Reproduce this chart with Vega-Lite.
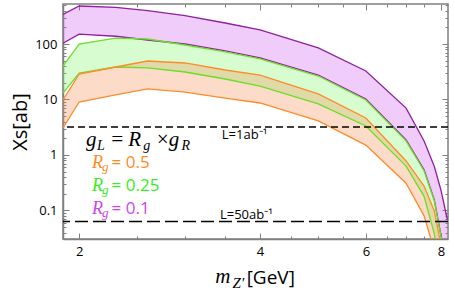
{
  "$schema": "https://vega.github.io/schema/vega-lite/v6.json",
  "width": 385,
  "height": 235,
  "autosize": {"type": "none"},
  "padding": {"left": 63, "top": 4, "right": 7, "bottom": 55},
  "config": {
    "view": {"stroke": "#808080", "strokeWidth": 1.5},
    "axis": {
      "grid": false,
      "labelFont": "Open Sans",
      "labelFontSize": 13,
      "labelColor": "black",
      "domainColor": "#808080",
      "domainWidth": 1.5,
      "tickColor": "#808080",
      "tickWidth": 1,
      "titleFont": "Open Sans",
      "titleFontWeight": "normal",
      "titleColor": "black"
    }
  },
  "datasets": {
    "bands": [
      {"m": 1.88, "series": "0.1", "hi": 340, "lo": 103},
      {"m": 2.0, "series": "0.1", "hi": 484, "lo": 151},
      {"m": 2.3, "series": "0.1", "hi": 458, "lo": 138},
      {"m": 2.6, "series": "0.1", "hi": 398, "lo": 118},
      {"m": 3.0, "series": "0.1", "hi": 324, "lo": 100},
      {"m": 3.5, "series": "0.1", "hi": 239, "lo": 75},
      {"m": 4.0, "series": "0.1", "hi": 179, "lo": 56},
      {"m": 5.0, "series": "0.1", "hi": 85, "lo": 27.6},
      {"m": 6.0, "series": "0.1", "hi": 32.6, "lo": 10.2},
      {"m": 7.0, "series": "0.1", "hi": 7.0, "lo": 1.87},
      {"m": 7.5, "series": "0.1", "hi": 1.79, "lo": 0.54},
      {"m": 7.8, "series": "0.1", "hi": 0.62, "lo": 0.155},
      {"m": 8.0, "series": "0.1", "hi": 0.234, "lo": 0.036},
      {"m": 8.2, "series": "0.1", "hi": 0.068, "lo": 0.01},
      {"m": 1.88, "series": "0.25", "hi": 40, "lo": 13.1},
      {"m": 2.0, "series": "0.25", "hi": 100, "lo": 30},
      {"m": 2.3, "series": "0.25", "hi": 128, "lo": 38.5},
      {"m": 2.6, "series": "0.25", "hi": 123, "lo": 37.2},
      {"m": 3.0, "series": "0.25", "hi": 96, "lo": 31.3},
      {"m": 3.5, "series": "0.25", "hi": 72, "lo": 23.4},
      {"m": 4.0, "series": "0.25", "hi": 54, "lo": 17.5},
      {"m": 5.0, "series": "0.25", "hi": 26.5, "lo": 8.3},
      {"m": 6.0, "series": "0.25", "hi": 9.8, "lo": 3.34},
      {"m": 7.0, "series": "0.25", "hi": 1.8, "lo": 0.63},
      {"m": 7.5, "series": "0.25", "hi": 0.52, "lo": 0.18},
      {"m": 7.8, "series": "0.25", "hi": 0.15, "lo": 0.038},
      {"m": 8.0, "series": "0.25", "hi": 0.035, "lo": 0.005},
      {"m": 8.2, "series": "0.25", "hi": 0.01, "lo": 0.002},
      {"m": 1.88, "series": "0.5", "hi": 9.8, "lo": 3.06},
      {"m": 2.0, "series": "0.5", "hi": 28.8, "lo": 9.0},
      {"m": 2.3, "series": "0.5", "hi": 38.5, "lo": 12.1},
      {"m": 2.6, "series": "0.5", "hi": 49.4, "lo": 15.5},
      {"m": 3.0, "series": "0.5", "hi": 45.5, "lo": 13.6},
      {"m": 3.5, "series": "0.5", "hi": 34, "lo": 10.6},
      {"m": 4.0, "series": "0.5", "hi": 27.6, "lo": 8.65},
      {"m": 5.0, "series": "0.5", "hi": 12.6, "lo": 4.1},
      {"m": 6.0, "series": "0.5", "hi": 4.65, "lo": 1.51},
      {"m": 7.0, "series": "0.5", "hi": 0.78, "lo": 0.31},
      {"m": 7.5, "series": "0.5", "hi": 0.276, "lo": 0.08},
      {"m": 7.8, "series": "0.5", "hi": 0.098, "lo": 0.019},
      {"m": 8.0, "series": "0.5", "hi": 0.024, "lo": 0.004},
      {"m": 8.2, "series": "0.5", "hi": 0.005, "lo": 0.001}
    ],
    "lumi": [
      {"L": "1", "xs": 3.2},
      {"L": "50", "xs": 0.0634}
    ],
    "notes": [
      {"t": "g", "m": 2.054, "ys": 1.45, "kind": "math", "tone": "k"},
      {"t": "L", "m": 2.141, "ys": 1.23, "kind": "sub", "tone": "k"},
      {"t": "=", "m": 2.251, "ys": 1.45, "kind": "math", "tone": "k"},
      {"t": "R", "m": 2.413, "ys": 1.45, "kind": "math", "tone": "k"},
      {"t": "g", "m": 2.556, "ys": 1.23, "kind": "sub", "tone": "k"},
      {"t": "×", "m": 2.68, "ys": 1.45, "kind": "math", "tone": "k"},
      {"t": "g", "m": 2.82, "ys": 1.45, "kind": "math", "tone": "k"},
      {"t": "R", "m": 2.96, "ys": 1.23, "kind": "sub", "tone": "k"},
      {"t": "R", "m": 2.101, "ys": 0.583, "kind": "lmath", "tone": "0.5"},
      {"t": "g", "m": 2.184, "ys": 0.515, "kind": "lsub", "tone": "0.5"},
      {"t": "= 0.5", "m": 2.265, "ys": 0.583, "kind": "num", "tone": "0.5"},
      {"t": "R", "m": 2.101, "ys": 0.2245, "kind": "lmath", "tone": "0.25"},
      {"t": "g", "m": 2.184, "ys": 0.198, "kind": "lsub", "tone": "0.25"},
      {"t": "= 0.25", "m": 2.265, "ys": 0.2245, "kind": "num", "tone": "0.25"},
      {"t": "R", "m": 2.101, "ys": 0.0865, "kind": "lmath", "tone": "0.1"},
      {"t": "g", "m": 2.184, "ys": 0.0764, "kind": "lsub", "tone": "0.1"},
      {"t": "= 0.1", "m": 2.265, "ys": 0.0865, "kind": "num", "tone": "0.1"},
      {"t": "L=1ab⁻¹", "m": 3.455, "ys": 1.94, "kind": "lab", "tone": "k"},
      {"t": "L=50ab⁻¹", "m": 3.43, "ys": 0.069, "kind": "lab", "tone": "k"},
      {"t": "m", "m": 3.37, "ys": 0.00494, "kind": "math", "tone": "k"},
      {"t": "Z′", "m": 3.6, "ys": 0.00402, "kind": "xsub", "tone": "k"},
      {"t": "[GeV]", "m": 3.8, "ys": 0.00474, "kind": "big", "tone": "k"}
    ]
  },
  "layer": [
    {
      "layer": [
        {
          "data": {"name": "bands"},
          "transform": [{"filter": "datum.series === '0.1'"}],
          "mark": {"type": "area", "color": "#ca55ee", "opacity": 0.3, "clip": true},
          "encoding": {
            "x": {
              "field": "m", "type": "quantitative", "title": null,
              "scale": {"type": "log", "domain": [1.88, 8.22], "nice": false},
              "axis": {
                "values": [2, 2.5, 3, 3.5, 4, 4.5, 5, 5.5, 6, 6.5, 7, 7.5, 8],
                "format": "~g",
                "labelExpr": "(datum.value == 2 || datum.value == 4 || datum.value == 6 || datum.value == 8) ? datum.label : ''",
                "tickSize": {"condition": {"test": "datum.value == 2 || datum.value == 4 || datum.value == 6 || datum.value == 8", "value": -6}, "value": -3},
                "labelPadding": 12,
                "title": null
              }
            },
            "y": {
              "field": "hi", "type": "quantitative",
              "scale": {"type": "log", "domain": [0.0306, 526], "nice": false},
              "axis": {
                "title": "Xs[ab]",
                "values": [0.04, 0.05, 0.06, 0.07, 0.08, 0.09, 0.1, 0.2, 0.3, 0.4, 0.5, 0.6, 0.7, 0.8, 0.9, 1, 2, 3, 4, 5, 6, 7, 8, 9, 10, 20, 30, 40, 50, 60, 70, 80, 90, 100, 200, 300, 400, 500],
                "format": "~g",
                "labelExpr": "(datum.value == 0.1 || datum.value == 1 || datum.value == 10 || datum.value == 100) ? datum.label : ''",
                "tickSize": {"condition": {"test": "datum.value == 0.1 || datum.value == 1 || datum.value == 10 || datum.value == 100", "value": -6}, "value": -3},
                "labelPadding": 12,
                "titleFontSize": 20,
                "titlePadding": 4
              }
            },
            "y2": {"field": "lo"}
          }
        },
        {
          "data": {"name": "bands"},
          "transform": [{"filter": "datum.series === '0.25'"}],
          "mark": {"type": "area", "color": "#76f562", "opacity": 0.3, "clip": true},
          "encoding": {
            "x": {"field": "m", "type": "quantitative", "scale": {"type": "log"}},
            "y": {"field": "hi", "type": "quantitative", "scale": {"type": "log"}},
            "y2": {"field": "lo"}
          }
        },
        {
          "data": {"name": "bands"},
          "transform": [{"filter": "datum.series === '0.5'"}],
          "mark": {"type": "area", "color": "#f58a48", "opacity": 0.3, "clip": true},
          "encoding": {
            "x": {"field": "m", "type": "quantitative", "scale": {"type": "log"}},
            "y": {"field": "hi", "type": "quantitative", "scale": {"type": "log"}},
            "y2": {"field": "lo"}
          }
        },
        {
          "data": {"name": "bands"},
          "mark": {"type": "line", "strokeWidth": 1.3, "clip": true},
          "encoding": {
            "x": {"field": "m", "type": "quantitative", "scale": {"type": "log"}},
            "y": {"field": "lo", "type": "quantitative", "scale": {"type": "log"}},
            "stroke": {"field": "series", "type": "nominal", "scale": {"domain": ["0.5", "0.25", "0.1"], "range": ["#ff8a2a", "#6edc2a", "#8e1f9f"]}, "legend": null}
          }
        },
        {
          "data": {"name": "bands"},
          "mark": {"type": "line", "strokeWidth": 1.3, "clip": true},
          "encoding": {
            "x": {"field": "m", "type": "quantitative", "scale": {"type": "log"}},
            "y": {"field": "hi", "type": "quantitative", "scale": {"type": "log"}},
            "stroke": {"field": "series", "type": "nominal", "legend": null}
          }
        },
        {
          "data": {"name": "lumi"},
          "mark": {"type": "rule", "strokeWidth": 1.5, "color": "black"},
          "encoding": {
            "y": {"field": "xs", "type": "quantitative", "scale": {"type": "log"}},
            "strokeDash": {"field": "L", "type": "nominal", "scale": {"domain": ["1", "50"], "range": [[7, 4], [13, 5]]}, "legend": null}
          }
        },
        {
          "data": {"name": "notes"},
          "transform": [{"filter": "datum.kind === 'math'"}],
          "mark": {"type": "text", "font": "Liberation Serif", "fontStyle": "italic", "fontSize": 21, "align": "left", "baseline": "alphabetic"},
          "encoding": {
            "x": {"field": "m", "type": "quantitative", "scale": {"type": "log"}},
            "y": {"field": "ys", "type": "quantitative", "scale": {"type": "log"}},
            "text": {"field": "t"},
            "fill": {"field": "tone", "type": "nominal", "scale": {"domain": ["k", "0.5", "0.25", "0.1"], "range": ["#000000", "#ff8a1e", "#33ee22", "#cc44ee"]}, "legend": null}
          }
        },
        {
          "data": {"name": "notes"},
          "transform": [{"filter": "datum.kind === 'sub'"}],
          "mark": {"type": "text", "font": "Liberation Serif", "fontStyle": "italic", "fontSize": 14, "align": "left", "baseline": "alphabetic"},
          "encoding": {
            "x": {"field": "m", "type": "quantitative", "scale": {"type": "log"}},
            "y": {"field": "ys", "type": "quantitative", "scale": {"type": "log"}},
            "text": {"field": "t"},
            "fill": {"field": "tone", "type": "nominal", "legend": null}
          }
        },
        {
          "data": {"name": "notes"},
          "transform": [{"filter": "datum.kind === 'lmath'"}],
          "mark": {"type": "text", "font": "Liberation Serif", "fontStyle": "italic", "fontSize": 18, "align": "left", "baseline": "alphabetic"},
          "encoding": {
            "x": {"field": "m", "type": "quantitative", "scale": {"type": "log"}},
            "y": {"field": "ys", "type": "quantitative", "scale": {"type": "log"}},
            "text": {"field": "t"},
            "fill": {"field": "tone", "type": "nominal", "legend": null}
          }
        },
        {
          "data": {"name": "notes"},
          "transform": [{"filter": "datum.kind === 'lsub'"}],
          "mark": {"type": "text", "font": "Liberation Serif", "fontStyle": "italic", "fontSize": 13, "align": "left", "baseline": "alphabetic"},
          "encoding": {
            "x": {"field": "m", "type": "quantitative", "scale": {"type": "log"}},
            "y": {"field": "ys", "type": "quantitative", "scale": {"type": "log"}},
            "text": {"field": "t"},
            "fill": {"field": "tone", "type": "nominal", "legend": null}
          }
        },
        {
          "data": {"name": "notes"},
          "transform": [{"filter": "datum.kind === 'xsub'"}],
          "mark": {"type": "text", "font": "Liberation Serif", "fontStyle": "italic", "fontSize": 15, "align": "left", "baseline": "alphabetic"},
          "encoding": {
            "x": {"field": "m", "type": "quantitative", "scale": {"type": "log"}},
            "y": {"field": "ys", "type": "quantitative", "scale": {"type": "log"}},
            "text": {"field": "t"},
            "fill": {"field": "tone", "type": "nominal", "legend": null}
          }
        },
        {
          "data": {"name": "notes"},
          "transform": [{"filter": "datum.kind === 'num'"}],
          "mark": {"type": "text", "font": "Open Sans", "fontSize": 17, "align": "left", "baseline": "alphabetic"},
          "encoding": {
            "x": {"field": "m", "type": "quantitative", "scale": {"type": "log"}},
            "y": {"field": "ys", "type": "quantitative", "scale": {"type": "log"}},
            "text": {"field": "t"},
            "fill": {"field": "tone", "type": "nominal", "legend": null}
          }
        },
        {
          "data": {"name": "notes"},
          "transform": [{"filter": "datum.kind === 'lab'"}],
          "mark": {"type": "text", "font": "Open Sans", "fontSize": 13, "align": "left", "baseline": "alphabetic"},
          "encoding": {
            "x": {"field": "m", "type": "quantitative", "scale": {"type": "log"}},
            "y": {"field": "ys", "type": "quantitative", "scale": {"type": "log"}},
            "text": {"field": "t"},
            "fill": {"field": "tone", "type": "nominal", "legend": null}
          }
        },
        {
          "data": {"name": "notes"},
          "transform": [{"filter": "datum.kind === 'big'"}],
          "mark": {"type": "text", "font": "Open Sans", "fontSize": 19, "align": "left", "baseline": "alphabetic"},
          "encoding": {
            "x": {"field": "m", "type": "quantitative", "scale": {"type": "log"}},
            "y": {"field": "ys", "type": "quantitative", "scale": {"type": "log"}},
            "text": {"field": "t"},
            "fill": {"field": "tone", "type": "nominal", "legend": null}
          }
        }
      ]
    },
    {
      "data": {"name": "bands"},
      "mark": {"type": "point", "opacity": 0, "clip": true},
      "encoding": {
        "x": {
          "field": "m", "type": "quantitative", "scale": {"type": "log"},
          "axis": {
            "orient": "top", "labels": false, "domain": false, "title": null,
            "values": [2, 2.5, 3, 3.5, 4, 4.5, 5, 5.5, 6, 6.5, 7, 7.5, 8],
            "tickSize": {"condition": {"test": "datum.value == 2 || datum.value == 4 || datum.value == 6 || datum.value == 8", "value": -6}, "value": -3}
          }
        },
        "y": {
          "field": "hi", "type": "quantitative", "scale": {"type": "log"},
          "axis": {
            "orient": "right", "labels": false, "domain": false, "title": null,
            "values": [0.04, 0.05, 0.06, 0.07, 0.08, 0.09, 0.1, 0.2, 0.3, 0.4, 0.5, 0.6, 0.7, 0.8, 0.9, 1, 2, 3, 4, 5, 6, 7, 8, 9, 10, 20, 30, 40, 50, 60, 70, 80, 90, 100, 200, 300, 400, 500],
            "tickSize": {"condition": {"test": "datum.value == 0.1 || datum.value == 1 || datum.value == 10 || datum.value == 100", "value": -6}, "value": -3}
          }
        }
      }
    }
  ],
  "resolve": {"axis": {"x": "independent", "y": "independent"}}
}
